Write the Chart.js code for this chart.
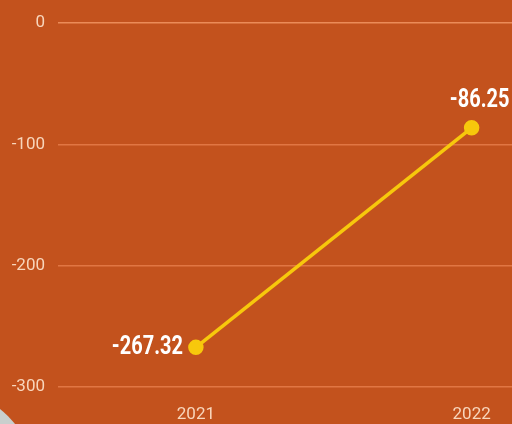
<!DOCTYPE html>
<html>
<head>
<meta charset="utf-8">
<script src="https://cdn.jsdelivr.net/npm/chart.js@4.4.1/dist/chart.umd.min.js"></script>
<style>
  html, body { margin: 0; padding: 0; background: #c3521d; overflow: hidden; }
  #wrap { position: relative; width: 512px; height: 424px; overflow: hidden; }
  #chart { position: absolute; left: 0; top: 0; }
  #corner { position: absolute; left: -156px; top: 388px; width: 192px; height: 192px;
            border-radius: 50%; background: #c9cfcd; }
</style>
</head>
<body>
<div id="wrap">
  <canvas id="chart" width="619" height="424"></canvas>
  <div id="corner"></div>
</div>
<script>
// yearly values
var years = ['2021', '2022'];
var values = [-267.32, -86.25];
var yTicks = [0, -100, -200, -300];

var tickFont = 'Roboto, "Liberation Sans", sans-serif';

// draws the value next to each point, squeezed a little sideways
var valueLabels = {
    id: 'valueLabels',
    afterDatasetsDraw: function (chart) {
        var ctx = chart.ctx;
        var pts = chart.getDatasetMeta(0).data;
        ctx.save();
        ctx.font = 'bold 25px ' + tickFont;
        ctx.fillStyle = '#ffffff';
        ctx.textBaseline = 'middle';
        pts.forEach(function (p, i) {
            var txt = values[i].toFixed(2);
            var sx = 0.8;
            ctx.save();
            if (i === 0) {
                ctx.translate(p.x - 13, p.y);
                ctx.scale(sx, 1);
                ctx.textAlign = 'right';
            } else {
                ctx.translate(p.x + 8, p.y - 27);
                ctx.scale(sx, 1);
                ctx.textAlign = 'center';
            }
            ctx.fillText(txt, 0, 0);
            ctx.restore();
        });
        ctx.restore();
    }
};

var ctx = document.getElementById('chart').getContext('2d');
var lineChart = new Chart(ctx, {
    type: 'line',
    data: {
        labels: years,
        datasets: [{
            data: values,
            borderColor: '#f7c80c',
            backgroundColor: '#f7c80c',
            borderWidth: 3.5,
            pointRadius: 6,
            pointHoverRadius: 6,
            tension: 0
        }]
    },
    options: {
        responsive: false,
        animation: false,
        layout: { padding: { top: 20, right: 0, left: 0, bottom: 0 } },
        plugins: { legend: { display: false }, tooltip: { enabled: false } },
        scales: {
            x: {
                offset: true,
                grid: { display: false },
                border: { display: false },
                ticks: {
                    color: '#f8d6bc',
                    padding: 10,
                    font: { family: tickFont, size: 17 }
                },
                afterFit: function (axis) { axis.height = 37; }
            },
            y: {
                min: -300,
                max: 0,
                afterBuildTicks: function (axis) {
                    axis.ticks = yTicks.map(function (v) { return { value: v }; });
                },
                grid: {
                    drawTicks: false,
                    lineWidth: 1.5,
                    color: function (c) {
                        return c.tick && c.tick.value === 0 ? 'rgba(240,145,95,0.9)' : 'rgba(232,128,78,0.8)';
                    }
                },
                border: { display: false },
                ticks: {
                    color: '#f8d6bc',
                    padding: 13,
                    font: { family: tickFont, size: 17 }
                },
                afterFit: function (axis) { axis.width = 58; }
            }
        }
    },
    plugins: [valueLabels]
});
</script>
</body>
</html>
